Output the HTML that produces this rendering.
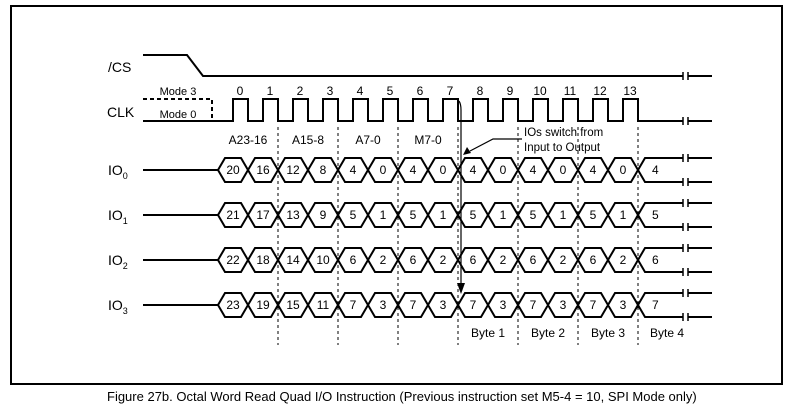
<!DOCTYPE html>
<html><head><style>
html,body{margin:0;padding:0;background:#fff;}
svg{display:block;}
text{font-family:"Liberation Sans",Arial,sans-serif;fill:#000;}
</style></head><body>
<svg width="789" height="415" viewBox="0 0 789 415" xmlns="http://www.w3.org/2000/svg">
<rect x="11" y="6" width="771" height="378" fill="none" stroke="#000" stroke-width="2"/>
<g stroke="#000" stroke-width="2" fill="none">
<path d="M143 55 H187 L203 76 H683 M688 76 H712"/>
<path d="M143 121 H233 V99 H248 V121 H263 V99 H278 V121 H293 V99 H308 V121 H323 V99 H338 V121 H353 V99 H368 V121 H383 V99 H398 V121 H413 V99 H428 V121 H443 V99 H458 V121 H473 V99 H488 V121 H503 V99 H518 V121 H533 V99 H548 V121 H563 V99 H578 V121 H593 V99 H608 V121 H623 V99 H638 V121 H683 M688 121 H712"/>
</g>
<g stroke="#000" stroke-width="1.5" fill="none">
<path d="M683 72 V80 M688 72 V80 M683 117 V125 M688 117 V125"/>
</g>
<path d="M143 99 H212 V121" stroke="#000" stroke-width="2" fill="none" stroke-dasharray="4,3"/>
<g font-size="11" text-anchor="middle">
<text x="178" y="95">Mode 3</text><text x="178" y="118">Mode 0</text>
</g>
<g font-size="12" text-anchor="middle">
<text x="240" y="95">0</text><text x="270" y="95">1</text><text x="300" y="95">2</text><text x="330" y="95">3</text><text x="360" y="95">4</text><text x="390" y="95">5</text><text x="420" y="95">6</text><text x="450" y="95">7</text><text x="480" y="95">8</text><text x="510" y="95">9</text><text x="540" y="95">10</text><text x="570" y="95">11</text><text x="600" y="95">12</text><text x="630" y="95">13</text>
<text x="248" y="144">A23-16</text><text x="308" y="144">A15-8</text><text x="368" y="144">A7-0</text><text x="428" y="144">M7-0</text>
<text x="488" y="337">Byte 1</text><text x="548" y="337">Byte 2</text><text x="608" y="337">Byte 3</text><text x="667" y="337">Byte 4</text>
</g>
<g font-size="11.5"><text x="524" y="136">IOs switch from</text><text x="524" y="151">Input to Output</text></g>
<g font-size="14">
<text x="108" y="72">/CS</text><text x="107" y="117">CLK</text>
<text x="108" y="175">IO<tspan font-size="9" dy="4">0</tspan></text>
<text x="108" y="220">IO<tspan font-size="9" dy="4">1</tspan></text>
<text x="108" y="265">IO<tspan font-size="9" dy="4">2</tspan></text>
<text x="108" y="310">IO<tspan font-size="9" dy="4">3</tspan></text>
</g>
<g stroke="#000" stroke-width="1" stroke-dasharray="3,3">
<path d="M278 127 V345 M338 127 V345 M398 127 V345 M458 127 V345 M518 127 V345 M578 127 V345 M638 127 V345"/>
</g>
<g stroke="#000" stroke-width="1.2" fill="none">
<path d="M459 101 Q461 104 461 110 V284"/>
<path d="M522 139 H493 L470 151"/>
</g>
<path d="M457 283 L465 283 L461 294 Z" fill="#000"/>
<path d="M463 155 L467 147 L471 153 Z" fill="#000"/>
<g id="rows" stroke="#000" stroke-width="2" fill="none"></g>
<g id="rowtext" font-size="12" text-anchor="middle"></g>
<text x="107" y="401" font-size="13">Figure 27b. Octal Word Read Quad I/O Instruction (Previous instruction set M5-4 = 10, SPI Mode only)</text>
<script>
(function(){
var ns="http://www.w3.org/2000/svg";
var rows=document.getElementById("rows"),rt=document.getElementById("rowtext");
var cs=[170,215,260,305];
var vals=[[20,16,12,8,4,0,4,0,4,0,4,0,4,0,4],[21,17,13,9,5,1,5,1,5,1,5,1,5,1,5],[22,18,14,10,6,2,6,2,6,2,6,2,6,2,6],[23,19,15,11,7,3,7,3,7,3,7,3,7,3,7]];
for(var r=0;r<4;r++){var c=cs[r];var d="M143 "+c+" H218 ";
for(var k=0;k<14;k++){var a=218+30*k,b=a+30;
d+="M"+a+" "+c+" L"+(a+7)+" "+(c-12)+" H"+(b-7)+" L"+b+" "+c+" L"+(b-7)+" "+(c+12)+" H"+(a+7)+" Z ";}
d+="M638 "+c+" L645 "+(c-12)+" H683 M638 "+c+" L645 "+(c+12)+" H683 M688 "+(c-12)+" H712 M688 "+(c+12)+" H712";
var p=document.createElementNS(ns,"path");p.setAttribute("d",d);rows.appendChild(p);
var t=document.createElementNS(ns,"path");t.setAttribute("d","M683 "+(c-16)+" v8 M688 "+(c-16)+" v8 M683 "+(c+8)+" v8 M688 "+(c+8)+" v8");t.setAttribute("stroke-width","1.5");rows.appendChild(t);
for(var k=0;k<15;k++){var tx=document.createElementNS(ns,"text");tx.setAttribute("x",k<14?233+30*k:652);tx.setAttribute("y",c+4);if(k==14)tx.setAttribute("text-anchor","start");tx.textContent=vals[r][k];rt.appendChild(tx);}
}})();
</script>
</svg>
</body></html>
